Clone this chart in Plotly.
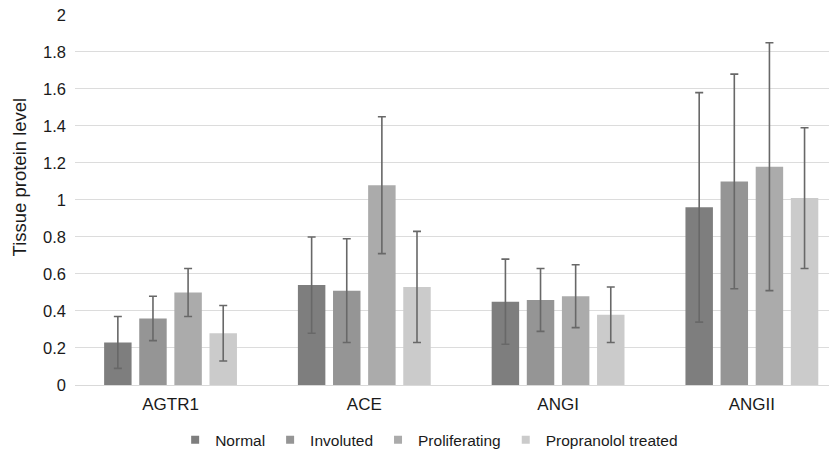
import plotly.graph_objects as go

categories = ["AGTR1", "ACE", "ANGI", "ANGII"]
series = ["Normal", "Involuted", "Proliferating", "Propranolol treated"]
values = {
    "Normal": [0.23, 0.54, 0.45, 0.96],
    "Involuted": [0.36, 0.51, 0.46, 1.10],
    "Proliferating": [0.50, 1.08, 0.48, 1.18],
    "Propranolol treated": [0.28, 0.53, 0.38, 1.01],
}
err_upper = {
    "Normal": [0.37, 0.80, 0.68, 1.58],
    "Involuted": [0.48, 0.79, 0.63, 1.68],
    "Proliferating": [0.63, 1.45, 0.65, 1.85],
    "Propranolol treated": [0.43, 0.83, 0.53, 1.39],
}
err_lower = {
    "Normal": [0.09, 0.28, 0.22, 0.34],
    "Involuted": [0.24, 0.23, 0.29, 0.52],
    "Proliferating": [0.37, 0.71, 0.31, 0.51],
    "Propranolol treated": [0.13, 0.23, 0.23, 0.63],
}
y_ticks = [0, 0.2, 0.4, 0.6, 0.8, 1, 1.2, 1.4, 1.6, 1.8, 2]
colors = {
    "Normal": "#7e7e7e",
    "Involuted": "#959595",
    "Proliferating": "#ababab",
    "Propranolol treated": "#cbcbcb",
}

fig = go.Figure()
for s in series:
    v = values[s]
    plus = [u - b for u, b in zip(err_upper[s], v)]
    minus = [b - l for b, l in zip(v, err_lower[s])]
    fig.add_trace(go.Bar(
        x=categories, y=v, name=s, showlegend=False,
        marker=dict(color=colors[s], line=dict(width=0)),
        error_y=dict(type="data", symmetric=False, array=plus, arrayminus=minus,
                     color="#686868", thickness=1.6, width=4),
    ))
# legend entries (small square swatches)
for s in series:
    fig.add_trace(go.Scatter(
        x=[None], y=[None], mode="markers", name=s, showlegend=True,
        marker=dict(symbol="square", size=8, color=colors[s]),
    ))

# page body has an 8px default margin, so the figure is sized/offset to compensate
fig.update_layout(
    width=829, height=446,
    margin=dict(l=67, r=2, t=6, b=69, autoexpand=False),
    paper_bgcolor="white", plot_bgcolor="white",
    barmode="group", bargap=0.275, bargroupgap=0.218,
    font=dict(family="Liberation Sans, Arial, sans-serif", size=16, color="#1a1a1a"),
    showlegend=True,
    legend=dict(orientation="h", x=0.466, xanchor="center", y=-0.149, yanchor="middle",
                font=dict(size=15.5), itemwidth=30, traceorder="normal",
                tracegroupgap=0),
    xaxis=dict(showgrid=False, showline=True, linecolor="#d9d9d9", linewidth=1,
               ticks="", tickfont=dict(size=17), range=[-0.493, 3.429],
               ticklabelstandoff=4, automargin=False),
    yaxis=dict(range=[0, 2.005], tickvals=y_ticks,
               showgrid=True, gridcolor="#dcdcdc", gridwidth=1,
               zeroline=False, showline=False, ticks="",
               tickformat="~g", tickfont=dict(size=16.5), ticklabelstandoff=8,
               ticklabeloverflow="allow", automargin=False),
    annotations=[dict(text="Tissue protein level", textangle=-90, xref="paper", yref="paper",
                      x=-0.0724, y=0.562, xanchor="center", yanchor="middle", showarrow=False,
                      font=dict(size=18.5, color="#1a1a1a"))],
)

fig.write_html("out.html")
